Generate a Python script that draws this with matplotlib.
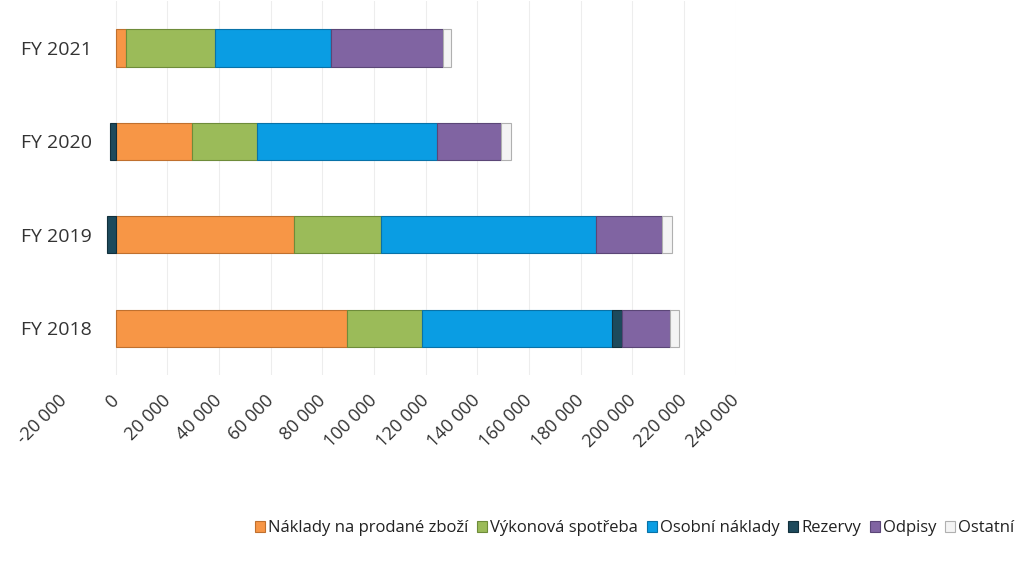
import matplotlib
matplotlib.use("Agg")
import matplotlib.pyplot as plt
import matplotlib.transforms as mtrans
import numpy as np
from matplotlib.ticker import FuncFormatter

plt.rcParams['font.family'] = ['Open Sans', 'DejaVu Sans']

years = ["FY 2018", "FY 2019", "FY 2020", "FY 2021"]
naklady_zbozi = [89400, 68900, 29500, 3900]
vykonova_spotreba = [29100, 33700, 25300, 34400]
osobni_naklady = [73400, 83300, 69500, 44900]
rezervy = [4200, -3500, -2300, 0]
odpisy = [18500, 25500, 24900, 43400]
ostatni = [3400, 4000, 3900, 3200]

series = [
    ("Náklady na prodané zboží", naklady_zbozi, "#F79646", "#C0702E"),
    ("Výkonová spotřeba", vykonova_spotreba, "#9BBB59", "#6E8C3A"),
    ("Osobní náklady", osobni_naklady, "#0A9DE3", "#0872A8"),
    ("Rezervy", rezervy, "#1D4A5C", "#12303C"),
    ("Odpisy", odpisy, "#8064A2", "#5B4677"),
    ("Ostatní", ostatni, "#F4F4F4", "#B0B0B0"),
]

fig = plt.figure(figsize=(10.21, 5.63), dpi=100)
ax = fig.add_axes([0.0627, 0.334, 0.658, 0.664])

y = np.arange(len(years))
pos_left = np.zeros(len(years))
neg_left = np.zeros(len(years))
for name, vals, col, ec in series:
    v = np.array(vals, dtype=float)
    left = np.where(v >= 0, pos_left, neg_left)
    ax.barh(y, v, left=left, height=0.4, color=col, edgecolor=ec,
            linewidth=0.8, label=name, zorder=3)
    pos_left = pos_left + np.where(v > 0, v, 0)
    neg_left = neg_left + np.where(v < 0, v, 0)

ax.set_xlim(-20000, 240000)
ax.set_ylim(-0.5, 3.5)
ax.set_xticks(np.arange(-20000, 240001, 20000))
ax.xaxis.set_major_formatter(FuncFormatter(lambda x, p: f"{int(x):,}".replace(",", " ")))
ax.set_yticks(y)
ax.set_yticklabels(years, fontsize=14, color="#333333")
ax.grid(axis="x", color="#EDEDED", linewidth=0.8, zorder=0)
ax.xaxis.get_gridlines()[0].set_visible(False)
for s in ax.spines.values():
    s.set_visible(False)
ax.tick_params(axis="both", length=0)
ax.tick_params(axis="y", pad=-20)
ax.tick_params(axis="x", pad=12)
shift = mtrans.ScaledTranslation(-6 / 100, 0, fig.dpi_scale_trans)
for lab in ax.get_xticklabels():
    lab.set_rotation(45)
    lab.set_ha("right")
    lab.set_va("top")
    lab.set_rotation_mode("anchor")
    lab.set_fontsize(13)
    lab.set_color("#333333")
    lab.set_transform(lab.get_transform() + shift)

fig.legend(loc="center right", bbox_to_anchor=(1.0, 0.062), ncol=6, frameon=False,
           fontsize=12, handlelength=0.6, handleheight=0.6, handletextpad=0.2,
           columnspacing=0.5, borderaxespad=0.0, labelcolor="#222222")

fig.savefig("out.png", dpi=100)
